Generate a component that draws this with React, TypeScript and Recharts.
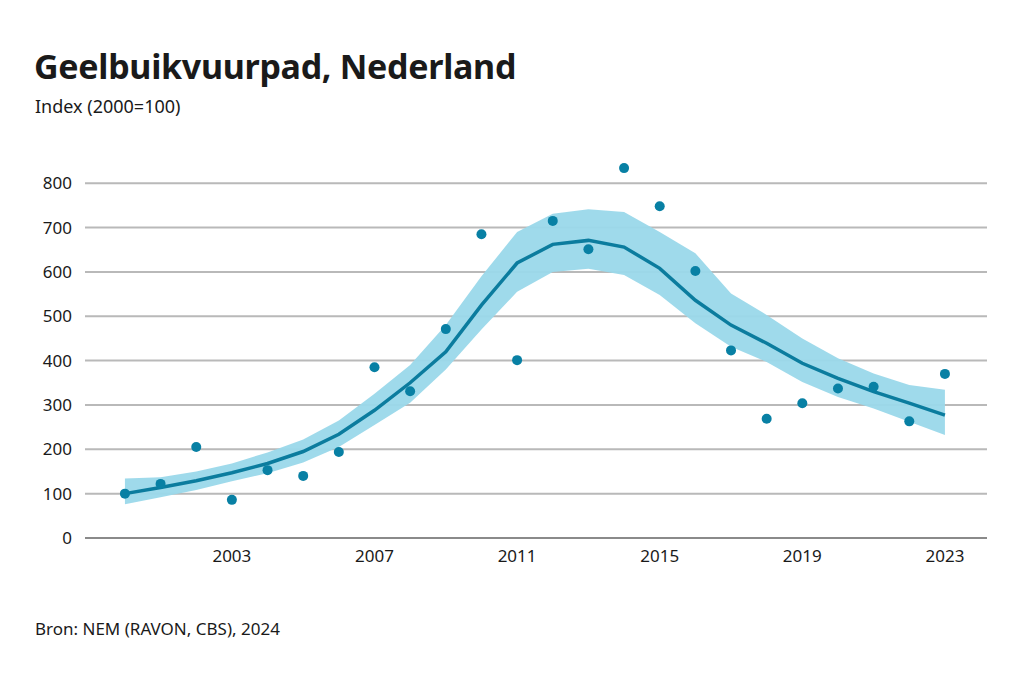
import {
  ComposedChart,
  Area,
  Line,
  Scatter,
  XAxis,
  YAxis,
  CartesianGrid,
} from 'recharts';

const years = [
  2000, 2001, 2002, 2003, 2004, 2005, 2006, 2007, 2008, 2009, 2010, 2011,
  2012, 2013, 2014, 2015, 2016, 2017, 2018, 2019, 2020, 2021, 2022, 2023,
];

// observed index values (dots)
const observed = [
  100, 122, 205, 86, 153, 140, 194, 385, 331, 471, 685, 401,
  715, 651, 834, 748, 602, 423, 269, 304, 337, 341, 263, 370,
];

// smoothed trend
const trend = [
  100, 114, 129, 147, 168, 195, 234, 288, 350, 420, 525, 620,
  662, 671, 656, 608, 536, 480, 439, 394, 360, 330, 304, 277,
];

// confidence band
const lower = [
  76, 92, 108, 128, 146, 170, 205, 255, 305, 380, 470, 555,
  600, 607, 593, 548, 484, 431, 397, 352, 318, 292, 262, 232,
];
const upper = [
  134, 137, 150, 168, 193, 222, 265, 325, 390, 480, 590, 690,
  731, 741, 735, 690, 642, 551, 503, 450, 405, 371, 345, 334,
];

const xTicks = [2003, 2007, 2011, 2015, 2019, 2023];
const yTicks = [0, 100, 200, 300, 400, 500, 600, 700, 800];

const data = years.map((year, i) => ({
  year,
  observed: observed[i],
  trend: trend[i],
  band: [lower[i], upper[i]],
}));

const FONT = '"Noto Sans", "Open Sans", sans-serif';
const TEXT = '#1a1a1a';
const LINE = '#0b7c9e';
const DOT = '#0880a4';
const BAND = '#9ad8ea';

export default function App() {
  return (
    <div
      style={{
        position: 'absolute',
        top: 0,
        left: 0,
        width: 1024,
        height: 681,
        background: '#fff',
        fontFamily: FONT,
        color: TEXT,
      }}
    >
      <div
        style={{
          position: 'absolute',
          left: 34,
          top: 43,
          fontSize: 34,
          fontWeight: 700,
          letterSpacing: -0.3,
        }}
      >
        Geelbuikvuurpad, Nederland
      </div>
      <div style={{ position: 'absolute', left: 35, top: 94, fontSize: 18 }}>
        Index (2000=100)
      </div>

      <div style={{ position: 'absolute', left: 0, top: 0 }}>
        <ComposedChart
          width={1024}
          height={681}
          data={data}
          margin={{ top: 161, right: 37, bottom: 113, left: 0 }}
        >
          <CartesianGrid
            vertical={false}
            horizontalValues={yTicks}
            stroke="#b9b9b9"
            strokeWidth={2}
          />
          <XAxis
            dataKey="year"
            type="number"
            domain={[1998.88, 2024.18]}
            ticks={xTicks}
            height={30}
            tickLine={false}
            axisLine={{ stroke: '#8a8a8a', strokeWidth: 2 }}
            tickMargin={6}
            tick={{ fontSize: 17, fill: TEXT, fontFamily: FONT }}
          />
          <YAxis
            type="number"
            domain={[0, 850]}
            ticks={yTicks}
            width={85}
            tickLine={false}
            axisLine={false}
            tickMargin={7}
            tick={{ fontSize: 17, fill: TEXT, fontFamily: FONT }}
          />
          <Area
            dataKey="band"
            type="linear"
            stroke="none"
            fill={BAND}
            fillOpacity={0.95}
            isAnimationActive={false}
          />
          <Line
            dataKey="trend"
            type="linear"
            stroke={LINE}
            strokeWidth={3.5}
            dot={false}
            isAnimationActive={false}
          />
          <Scatter
            dataKey="observed"
            fill={DOT}
            shape={(p: any) => <circle cx={p.cx} cy={p.cy} r={5} fill={DOT} />}
            isAnimationActive={false}
          />
        </ComposedChart>
      </div>

      <div style={{ position: 'absolute', left: 35, top: 617, fontSize: 17 }}>
        Bron: NEM (RAVON, CBS), 2024
      </div>
    </div>
  );
}
